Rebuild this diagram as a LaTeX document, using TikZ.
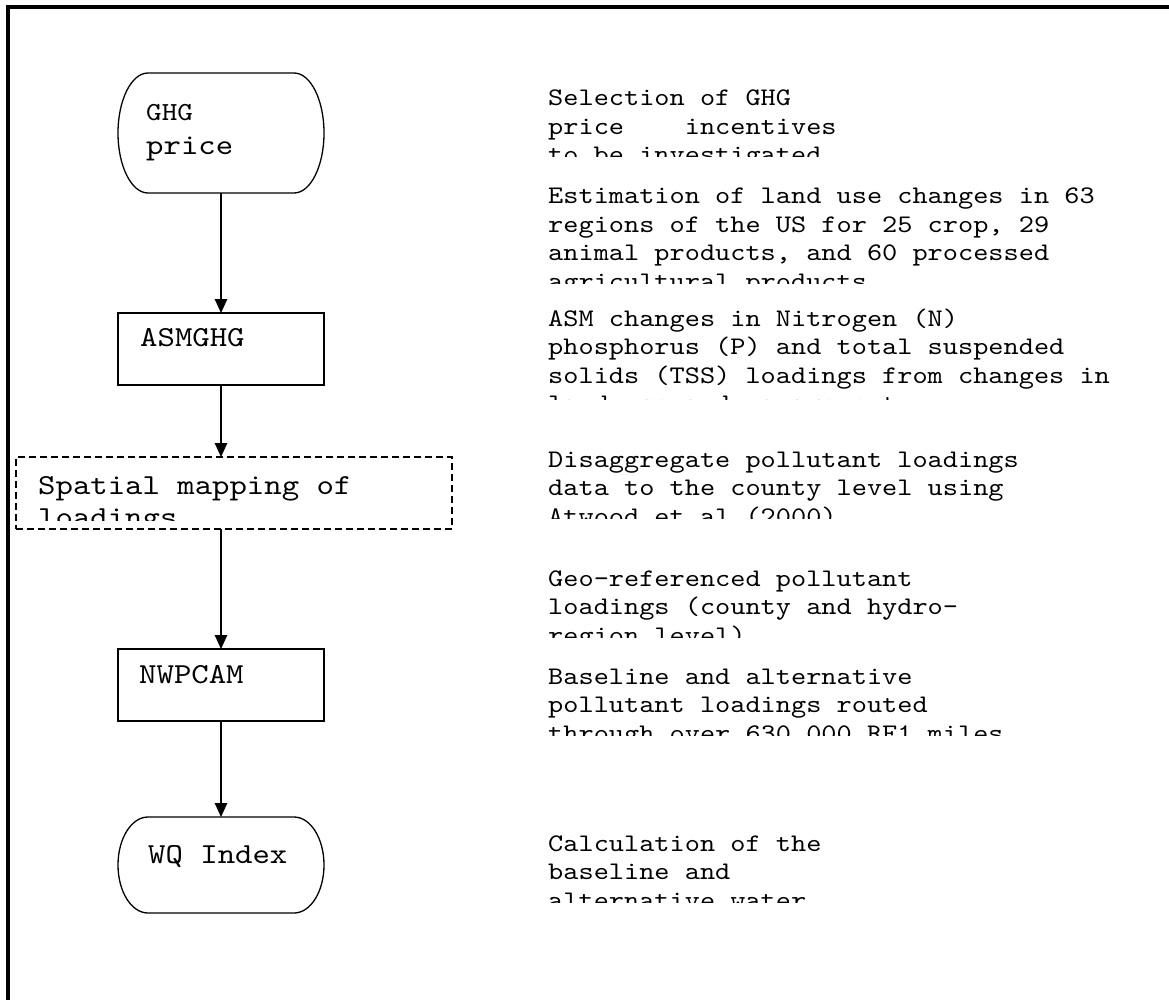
\documentclass[tikz,border=0pt]{standalone}
\usepackage{fontspec}
\newfontfamily\cour{lmmono10-regular.otf}[FakeStretch=1.143]
\usetikzlibrary{arrows.meta}
\begin{document}
\begin{tikzpicture}[x=1pt,y=-1pt,
  boxline/.style={line width=1.3pt},
  arr/.style={line width=1.3pt,-{Triangle[length=14pt,width=12.5pt]}},
  frame/.style={line width=4pt},
  shell/.style={draw=none,inner sep=0pt,outer sep=0pt,anchor=north west},
  desc/.style={inner sep=0pt,anchor=base west,font=\cour\fontsize{25.3}{28.5}\selectfont},
  lbl/.style={inner sep=0pt,anchor=base west,font=\cour\fontsize{29}{32}\selectfont}]
\frenchspacing
\useasboundingbox (0,0) rectangle (1169,1000);
% frame
\draw[frame] (7.5,1000) -- (7.5,7.5) -- (1169,7.5);

% --- left column shapes
\node[shell,minimum width=206pt,minimum height=120pt] (ghg) at (118,73) {};
\draw[boxline] ([xshift=30pt]ghg.north west) -- ([xshift=-30pt]ghg.north east)
  arc[start angle=90,end angle=-90,x radius=30pt,y radius=60pt]
  -- ([xshift=30pt]ghg.south west)
  arc[start angle=270,end angle=90,x radius=30pt,y radius=60pt] -- cycle;
\node[inner sep=0pt,anchor=base west] (ghgt) at (146,121)
  {\cour\fontsize{26}{34}\selectfont\vtop{\hbox{GHG}\hbox{\fontsize{29}{34}\selectfont price}}};

\node[shell,draw,boxline,minimum width=206pt,minimum height=72pt] (asm) at (118,313) {};
\node[lbl] (asmt) at (140,346) {ASMGHG};

\node[shell,draw,boxline,dash pattern=on 7pt off 4pt,minimum width=436pt,minimum height=72pt] (sp) at (16,457) {};
\begin{scope}
  \clip (16,460) rectangle (452,520);
  \node[lbl] (spt) at (38,494) {\vtop{\hbox{Spatial mapping of}\hbox{loadings}}};
\end{scope}

\node[shell,draw,boxline,minimum width=206pt,minimum height=72pt] (nw) at (118,649) {};
\node[lbl] (nwt) at (139,683) {NWPCAM};

\node[shell,minimum width=206pt,minimum height=96pt] (wq) at (118,817) {};
\draw[boxline] ([xshift=30pt]wq.north west) -- ([xshift=-30pt]wq.north east)
  arc[start angle=90,end angle=-90,x radius=30pt,y radius=48pt]
  -- ([xshift=30pt]wq.south west)
  arc[start angle=270,end angle=90,x radius=30pt,y radius=48pt] -- cycle;
\node[lbl] (wqt) at (148,863) {WQ Index};

% --- connectors
\draw[arr] (ghg.south) -- (asm.north);
\draw[arr] (asm.south) -- (asm.south |- sp.north);
\draw[arr] (nw.north |- sp.south) -- (nw.north);
\draw[arr] (nw.south) -- (wq.north);

% --- right column descriptions
\begin{scope}
  \clip (540,70) rectangle (1169,157);
  \node[desc] (d1) at (548,106) {\vtop{\hbox{Selection of GHG}\hbox{price\ \ \ \ incentives}\hbox{to be investigated}}};
\end{scope}
\begin{scope}
  \clip (540,170) rectangle (1169,283);
  \node[desc] (d2) at (548,204) {\vtop{\hbox{Estimation of land use changes in 63}\hbox{regions of the US for 25 crop, 29}\hbox{animal products, and 60 processed}\hbox{agricultural products}}};
\end{scope}
\begin{scope}
  \clip (540,295) rectangle (1169,399);
  \node[desc] (d3) at (548,326) {\vtop{\hbox{ASM changes in Nitrogen (N)}\hbox{phosphorus (P) and total suspended}\hbox{solids (TSS) loadings from changes in}\hbox{land use and management}}};
\end{scope}
\begin{scope}
  \clip (540,435) rectangle (1169,518);
  \node[desc] (d4) at (548,467) {\vtop{\hbox{Disaggregate pollutant loadings}\hbox{data to the county level using}\hbox{Atwood et al (2000)}}};
\end{scope}
\begin{scope}
  \clip (540,555) rectangle (1169,637);
  \node[desc] (d5) at (548,586) {\vtop{\hbox{Geo-referenced pollutant}\hbox{loadings (county and hydro-}\hbox{region level)}}};
\end{scope}
\begin{scope}
  \clip (540,650) rectangle (1169,735);
  \node[desc] (d6) at (548,684) {\vtop{\hbox{Baseline and alternative}\hbox{pollutant loadings routed}\hbox{through over 630,000 RF1 miles}}};
\end{scope}
\begin{scope}
  \clip (540,820) rectangle (1169,902);
  \node[desc] (d7) at (548,851) {\vtop{\hbox{Calculation of the}\hbox{baseline and}\hbox{alternative water}}};
\end{scope}
\end{tikzpicture}
\end{document}
